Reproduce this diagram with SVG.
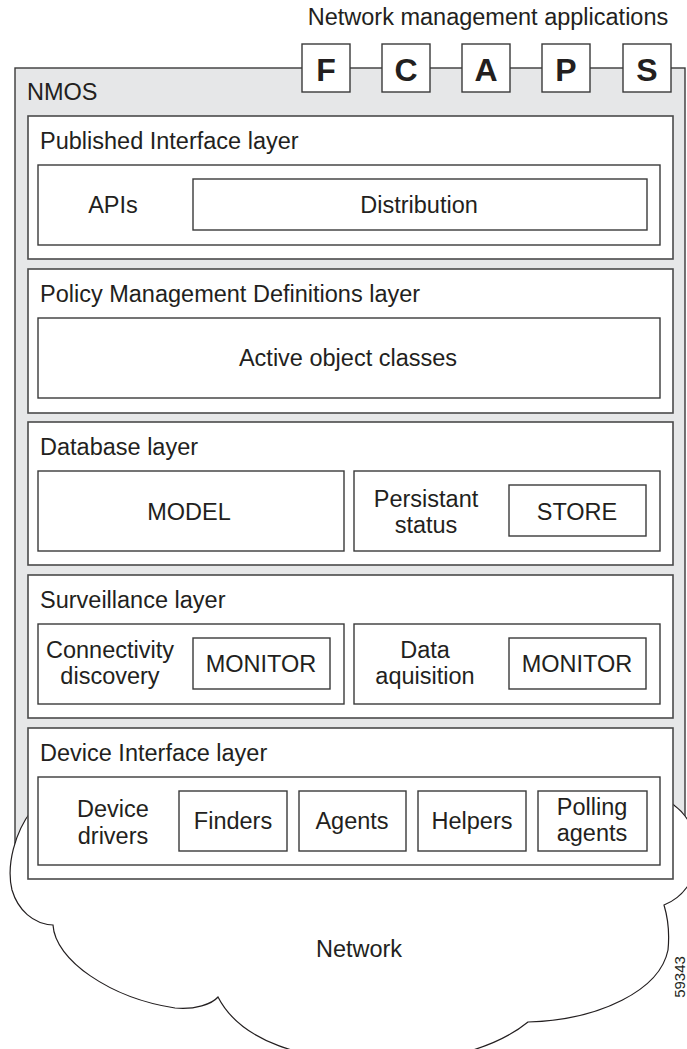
<svg xmlns="http://www.w3.org/2000/svg" width="687" height="1049" viewBox="0 0 687 1049">
<style>
text{font-family:"Liberation Sans",Arial,sans-serif;fill:#231f20;font-size:23.5px}
.c{text-anchor:middle}
.b{font-weight:bold;font-size:32px}
.box{fill:#fff;stroke:#3a3a3a;stroke-width:1.4}
.layer{fill:#fff;stroke:#4a4a4a;stroke-width:1.6}
.nmos{fill:#e6e7e8;stroke:#3a3a3a;stroke-width:1.4}
.cloud{fill:#fff;stroke:#231f20;stroke-width:1.2}
</style>
<g id="title"><text class="c" x="488" y="25">Network management applications</text></g>
<g id="nmos">
<rect class="nmos" x="15" y="68" width="670" height="812"/>
<text x="27" y="100">NMOS</text>
</g>
<g id="apps">
<g id="app-F"><rect class="box" x="302" y="44" width="48" height="48"/><text class="c b" x="326" y="81">F</text></g>
<g id="app-C"><rect class="box" x="382" y="44" width="48" height="48"/><text class="c b" x="406" y="81">C</text></g>
<g id="app-A"><rect class="box" x="462" y="44" width="48" height="48"/><text class="c b" x="486" y="81">A</text></g>
<g id="app-P"><rect class="box" x="542" y="44" width="48" height="48"/><text class="c b" x="566" y="81">P</text></g>
<g id="app-S"><rect class="box" x="623" y="44" width="48" height="48"/><text class="c b" x="647" y="81">S</text></g>
</g>
<g id="network">
<path class="cloud" d="M 40 790 C 36 798 34 804 32 810 C 15 832 6 865 12 890 C 18 910 33 924 53 925 C 55 960 110 998 175 1008 C 195 1010 212 1004 218 997 C 240 1040 300 1062 390 1062 C 450 1062 500 1045 528 1022 C 600 1020 660 990 668 950 C 670 930 667 915 664 905 C 682 898 697 880 697 855 C 697 830 686 814 675 806 C 668 800 662 795 655 790 Z"/>
<text class="c" x="359" y="957">Network</text>
</g>
<g id="layer-published">
<rect class="layer" x="28" y="116" width="645" height="143"/>
<text x="40" y="149">Published Interface layer</text>
<rect class="box" x="38" y="165" width="622" height="80"/>
<text class="c" x="113" y="213">APIs</text>
<g id="distribution"><rect class="box" x="193" y="179" width="454" height="51"/><text class="c" x="419" y="213">Distribution</text></g>
</g>
<g id="layer-policy">
<rect class="layer" x="28" y="269" width="645" height="144"/>
<text x="40" y="302">Policy Management Definitions layer</text>
<g id="active-object-classes"><rect class="box" x="38" y="318" width="622" height="80"/><text class="c" x="348" y="366">Active object classes</text></g>
</g>
<g id="layer-database">
<rect class="layer" x="28" y="422" width="645" height="143"/>
<text x="40" y="455">Database layer</text>
<g id="model"><rect class="box" x="38" y="471" width="306" height="80"/><text class="c" x="189" y="520">MODEL</text></g>
<g id="persistant-status"><rect class="box" x="354" y="471" width="306" height="80"/>
<text class="c" x="426" y="507">Persistant</text><text class="c" x="426" y="533">status</text>
<g id="store"><rect class="box" x="509" y="485" width="137" height="51"/><text class="c" x="577" y="520">STORE</text></g></g>
</g>
<g id="layer-surveillance">
<rect class="layer" x="28" y="575" width="645" height="143"/>
<text x="40" y="608">Surveillance layer</text>
<g id="connectivity-discovery"><rect class="box" x="38" y="624" width="306" height="80"/>
<text class="c" x="110" y="658">Connectivity</text><text class="c" x="110" y="684">discovery</text>
<g id="monitor-1"><rect class="box" x="193" y="638" width="137" height="51"/><text class="c" x="261" y="672">MONITOR</text></g></g>
<g id="data-aquisition"><rect class="box" x="354" y="624" width="306" height="80"/>
<text class="c" x="425" y="658">Data</text><text class="c" x="425" y="684">aquisition</text>
<g id="monitor-2"><rect class="box" x="509" y="638" width="137" height="51"/><text class="c" x="577" y="672">MONITOR</text></g></g>
</g>
<g id="layer-device">
<rect class="layer" x="28" y="728" width="645" height="151"/>
<text x="40" y="761">Device Interface layer</text>
<g id="device-drivers"><rect class="box" x="38" y="777" width="622" height="88"/>
<text class="c" x="113" y="817">Device</text><text class="c" x="113" y="844">drivers</text>
<g id="finders"><rect class="box" x="179" y="791" width="108" height="60"/><text class="c" x="233" y="829">Finders</text></g>
<g id="agents"><rect class="box" x="299" y="791" width="107" height="60"/><text class="c" x="352" y="829">Agents</text></g>
<g id="helpers"><rect class="box" x="418" y="791" width="108" height="60"/><text class="c" x="472" y="829">Helpers</text></g>
<g id="polling-agents"><rect class="box" x="538" y="791" width="109" height="60"/><text class="c" x="592" y="815">Polling</text><text class="c" x="592" y="841">agents</text></g>
</g>
</g>
<g id="connectors"></g>
<text transform="translate(685,977) rotate(-90)" class="c" style="font-size:15px">59343</text>
</svg>
